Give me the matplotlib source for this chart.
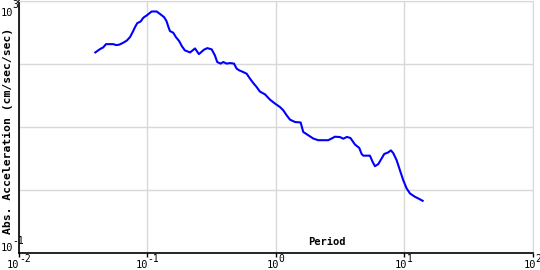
import matplotlib
matplotlib.use('Agg')
import matplotlib.pyplot as plt
from matplotlib.ticker import FixedLocator, NullLocator, NullFormatter
from matplotlib.transforms import blended_transform_factory

#==============================
# spectrum (period in sec, acceleration in cm/sec/sec)

period = [0.0393, 0.0428, 0.0453, 0.0476, 0.0543, 0.0570, 0.0604, 0.0649, 0.0690, 0.0732,
          0.0768, 0.0801, 0.0834, 0.0887, 0.0929, 0.0987, 0.108, 0.118, 0.125, 0.135,
          0.141, 0.146, 0.150, 0.159, 0.167, 0.177, 0.186, 0.196, 0.215, 0.235,
          0.252, 0.276, 0.293, 0.317, 0.336, 0.350, 0.372, 0.390, 0.415, 0.440,
          0.473, 0.496, 0.520, 0.543, 0.593, 0.630, 0.668, 0.710, 0.753, 0.824,
          0.901, 0.986, 1.078, 1.144, 1.216, 1.290, 1.411, 1.563, 1.637, 1.791,
          1.960, 2.143, 2.564, 2.724, 2.891, 3.162, 3.355, 3.585, 3.818, 4.139,
          4.470, 4.667, 4.802, 5.415, 5.685, 5.924, 6.284, 6.679, 6.998, 7.52,
          7.89, 8.22, 8.74, 9.27, 9.84, 10.46, 11.10, 12.14, 12.88, 13.94]

accel = [152, 172, 183, 206, 206, 199, 202, 217, 234, 266,
         320, 384, 444, 473, 541, 589, 681, 681, 626, 553,
         478, 384, 332, 313, 266, 230, 190, 164, 152, 176,
         143, 168, 178, 170, 136, 107, 101, 107, 101, 103,
         101, 83.9, 78.8, 76.0, 69.9, 58.2, 49.6, 42.8, 36.2, 32.8,
         27.0, 23.4, 20.6, 18.3, 15.2, 13.0, 11.9, 11.7, 8.27, 7.33,
         6.50, 6.11, 6.11, 6.50, 6.94, 6.86, 6.45, 6.89, 6.62, 5.22,
         4.61, 3.69, 3.47, 3.47, 2.76, 2.36, 2.54, 3.13, 3.69, 3.91,
         4.21, 3.82, 2.94, 2.04, 1.415, 1.045, 0.870, 0.769, 0.725, 0.664]

xticks = [1e-2, 1e-1, 1e0, 1e1, 1e2]
xexps = ['-2', '-1', '0', '1', '2']
yticks = [1e-1, 1e0, 1e1, 1e2, 1e3]
yexps = {1e-1: '-1', 1e3: '3'}   # only the two ends carry a label

#==============================

plt.rcParams['font.family'] = ['DejaVu Sans Mono']

grid = '#d8d8d8'
fb, fe = 7.5, 7         # base / exponent font size (pt)
adv_b = 0.602 * fb * 100 / 72   # char advance in px
adv_e = 0.602 * fe * 100 / 72

fig = plt.figure(figsize=(5.4, 2.7), dpi=100)
ax = fig.add_axes([19 / 540, 17.5 / 270, 513.5 / 540, 251.5 / 270])

ax.plot(period, accel, color='#0000ff', lw=1.5)

ax.set_xscale('log')
ax.set_yscale('log')
ax.set_xlim(1e-2, 1e2)
ax.set_ylim(1e-1, 1e3)

ax.xaxis.set_major_locator(FixedLocator(xticks))
ax.yaxis.set_major_locator(FixedLocator(yticks))
ax.xaxis.set_minor_locator(NullLocator())
ax.yaxis.set_minor_locator(NullLocator())
ax.xaxis.set_major_formatter(NullFormatter())
ax.yaxis.set_major_formatter(NullFormatter())

ax.grid(True, color=grid, lw=1)
ax.set_axisbelow(True)
for s in ['top', 'right']:
    ax.spines[s].set_color(grid)
for s in ['left', 'bottom']:
    ax.spines[s].set_color('black')
    ax.spines[s].set_linewidth(1.2)

ax.tick_params(axis='x', direction='out', length=3, width=1)
ax.tick_params(axis='y', direction='out', length=0)


def pow_label(xy, trans, left, base_dy, exp_dy, exp):
    # "10" followed by a raised exponent, offsets in pixels from xy
    ax.annotate('10', xy, xycoords=trans, xytext=(left, base_dy), textcoords='offset pixels',
                ha='left', va='baseline', fontsize=fb, annotation_clip=False)
    ax.annotate(exp, xy, xycoords=trans, xytext=(left + 2 * adv_b - 0.5, exp_dy),
                textcoords='offset pixels', ha='left', va='baseline', fontsize=fe,
                annotation_clip=False)


xtrans = blended_transform_factory(ax.transData, ax.transAxes)
for t, e in zip(xticks, xexps):
    w = 2 * adv_b + len(e) * adv_e
    pow_label((t, 0), xtrans, -w / 2, -16, -10, e)

ytrans = blended_transform_factory(ax.transAxes, ax.transData)
for t, e in yexps.items():
    w = 2 * adv_b + len(e) * adv_e
    left = max(-w - 1, -18.5)   # keep it inside the figure
    if t == yticks[-1]:
        pow_label((0, t), ytrans, left, -14.5, -7.5, e)
    else:
        pow_label((0, t), ytrans, left, 1.5, 8, e)

ax.text(0.60, 0.042, 'Period', transform=ax.transAxes, ha='center', va='center',
        fontsize=7.5, fontweight='bold')
fig.text(8 / 540, 1 - 131 / 270, 'Abs. Acceleration (cm/sec/sec)', rotation=90,
         ha='center', va='center', fontsize=8.2, fontweight='bold')

fig.savefig('out.png', dpi=100)
